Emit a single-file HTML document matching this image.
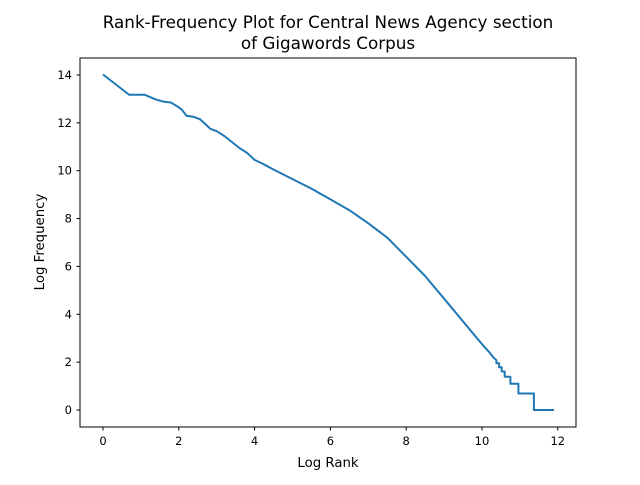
<!DOCTYPE html>
<html><head><meta charset="utf-8"><style>
body{margin:0;background:#fff;}
svg text{font-family:"DejaVu Sans","Liberation Sans",sans-serif;fill:#000;}
</style></head><body>
<svg width="640" height="480" xmlns="http://www.w3.org/2000/svg">
<rect width="640" height="480" fill="#fff"/>
<text x="328" y="28" font-size="16.8" text-anchor="middle">Rank-Frequency Plot for Central News Agency section</text>
<text x="328" y="49" font-size="16.8" text-anchor="middle">of Gigawords Corpus</text>
<g id="ticks"></g>
<path id="line" fill="none" stroke="#1f77b4" stroke-width="2" stroke-linejoin="round"/>
<rect x="80" y="58" width="496" height="369" fill="none" stroke="#000" stroke-width="1"/>
<text x="328" y="467" font-size="13.3" text-anchor="middle">Log Rank</text>
<text transform="translate(44,242) rotate(-90)" font-size="13.3" text-anchor="middle">Log Frequency</text>
</svg>
<script>
const xTicks=[0,2,4,6,8,10,12];
const yTicks=[0,2,4,6,8,10,12,14];
const logRank=[0,0.69,1.1,1.39,1.61,1.79,1.95,2.08,2.2,2.4,2.56,2.7,2.83,3.0,3.2,3.4,3.6,3.8,4.0,4.2,4.5,5,5.5,6,6.5,7,7.5,8,8.5,9,9.5,10,10.2,10.3,10.38,10.38,10.45,10.45,10.52,10.52,10.6,10.6,10.75,10.75,10.96,10.96,11.37,11.37,11.9];
const logFreq=[14.02,13.17,13.17,12.98,12.88,12.85,12.7,12.55,12.3,12.25,12.15,11.95,11.75,11.65,11.45,11.2,10.95,10.75,10.45,10.3,10.05,9.65,9.25,8.8,8.35,7.8,7.2,6.4,5.6,4.65,3.7,2.75,2.4,2.2,2.08,1.95,1.95,1.79,1.79,1.61,1.61,1.39,1.39,1.1,1.1,0.69,0.69,0,0];
const X=v=>103+v*37.9, Y=v=>410-v*23.93;
const ns="http://www.w3.org/2000/svg", g=document.getElementById('ticks');
function mk(t,a){const e=document.createElementNS(ns,t);for(const k in a)e.setAttribute(k,a[k]);g.appendChild(e);return e;}
xTicks.forEach(t=>{
 const l=mk('line',{x1:X(t),x2:X(t),y1:427,y2:430.5,stroke:'#000'});
 
 
 const s=mk('text',{x:X(t),y:445,'font-size':'11.5','text-anchor':'middle'});s.textContent=t;
 
 
});
yTicks.forEach(t=>{
 const l=mk('line',{x1:76.5,x2:80,y1:Y(t),y2:Y(t),stroke:'#000'});
 
 
 const s=mk('text',{x:72,y:Y(t)+4,'font-size':'11.5','text-anchor':'end'});s.textContent=t;
 
 
});
document.getElementById('line').setAttribute('d',logRank.map((r,i)=>(i?'L':'M')+X(r).toFixed(1)+','+Y(logFreq[i]).toFixed(1)).join(''));
</script>
</body></html>
